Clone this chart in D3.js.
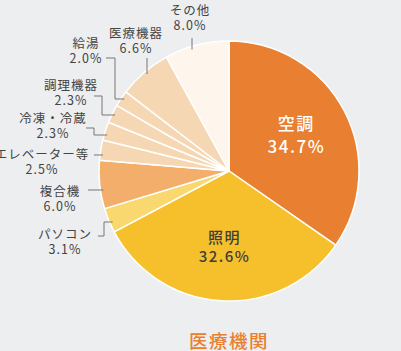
<!DOCTYPE html>
<html>
<head>
<meta charset="utf-8">
<script src="https://cdn.jsdelivr.net/npm/d3@7"></script>
<style>
  body { margin: 0; background: #edeef0; }
  svg { display: block; font-family: "Noto Sans CJK JP", "Noto Sans", sans-serif; }
</style>
</head>
<body>
<div id="chart"></div>
<script>
// data
var categories = ["空調", "照明", "パソコン", "複合機", "エレベーター等", "冷凍・冷蔵", "調理機器", "給湯", "医療機器", "その他"];
var shares = [34.7, 32.6, 3.1, 6.0, 2.5, 2.3, 2.3, 2.0, 6.6, 8.0];
var colors = ["#e98031", "#f6bf2c", "#f8d86f", "#f3ae6c", "#f6d7b3", "#f6d7b3", "#f6d7b3", "#f6d7b3", "#f6d7b3", "#fef5ec"];
var title = "医療機関";

var width = 401, height = 351;
var cx = 229, cy = 171, radius = 130;

var svg = d3.select("#chart")
    .append("svg")
    .attr("width", width)
    .attr("height", height);

var g = svg.append("g")
    .attr("transform", "translate(" + cx + "," + cy + ")");

var data = categories.map(function (c, i) { return { name: c, value: shares[i], color: colors[i] } });

var pie = d3.pie().sort(null).value(function (d) { return d.value });
var arcs = pie(data);
var arc = d3.arc().innerRadius(0).outerRadius(radius);

g.selectAll("path.slice")
    .data(arcs)
    .enter()
    .append("path")
    .attr("class", "slice")
    .attr("d", arc)
    .attr("fill", function (d) { return d.data.color })
    .attr("stroke", "#fff")
    .attr("stroke-width", 1.5)
    .attr("stroke-linejoin", "round");

// labels inside the two big slices
var labelArc = d3.arc().innerRadius(76).outerRadius(76);
var inside = [
    { i: 0, fill: "#fff", size: 17, off: [-6, 17] },
    { i: 1, fill: "#3d3d3d", size: 15, off: [-4, 15] }
];
inside.forEach(function (o) {
    var c = labelArc.centroid(arcs[o.i]);
    var t = g.append("text")
        .attr("text-anchor", "middle")
        .attr("fill", o.fill)
        .style("font-size", o.size + "px")
        .style("font-weight", 500)
        .style("letter-spacing", "1.5px");
    t.append("tspan").attr("x", c[0]).attr("y", c[1] + o.off[0]).text(arcs[o.i].data.name);
    t.append("tspan").attr("x", c[0]).attr("y", c[1] + o.off[1]).text(arcs[o.i].data.value.toFixed(1) + "%");
});

// outside labels: text anchor (page coords) and leader path towards the pie
// the last point of each leader is found on a circle slightly inside the pie
var leaderR = 127;
var outside = [
    { i: 2, x: 65, y: 239, lead: [[98, 236], [104, 236], [104, 222]], end: "h" },
    { i: 3, x: 60, y: 196, lead: [[88, 190]], end: "h" },
    { i: 4, x: 42, y: 159, lead: [[94, 155]], end: "h" },
    { i: 5, x: 53, y: 123, lead: [[86, 128], [94, 128], [94, 135]], end: "h" },
    { i: 6, x: 71, y: 90, lead: [[94, 96], [102, 96], [102, 115]], end: "h" },
    { i: 7, x: 86, y: 48, lead: [[106, 58], [115, 58], [115, 99]], end: "h" },
    { i: 8, x: 136, y: 38, lead: [[147, 58]], end: "v" },
    { i: 9, x: 190, y: 15, lead: [[192, 38]], end: "v" }
];

var line = d3.line();
outside.forEach(function (o) {
    var pts = o.lead.map(function (p) { return [p[0] - cx, p[1] - cy] });
    var last = pts[pts.length - 1];
    if (o.end === "h") {
        pts.push([-Math.sqrt(leaderR * leaderR - last[1] * last[1]), last[1]]);
    } else {
        pts.push([last[0], -Math.sqrt(leaderR * leaderR - last[0] * last[0])]);
    }
    g.append("path")
        .attr("d", line(pts))
        .attr("fill", "none")
        .attr("stroke", "#777")
        .attr("stroke-width", 1);

    var t = svg.append("text")
        .attr("text-anchor", "middle")
        .attr("fill", "#444")
        .style("font-size", "12.5px")
        .style("letter-spacing", "1px");
    t.append("tspan").attr("x", o.x).attr("y", o.y).text(arcs[o.i].data.name);
    t.append("tspan").attr("x", o.x).attr("y", o.y + 15).text(arcs[o.i].data.value.toFixed(1) + "%");
});

svg.append("text")
    .attr("x", cx)
    .attr("y", 348)
    .attr("text-anchor", "middle")
    .attr("fill", "#e98031")
    .style("font-size", "18.5px")
    .style("font-weight", 500)
    .style("letter-spacing", "1.5px")
    .text(title);
</script>
</body>
</html>
